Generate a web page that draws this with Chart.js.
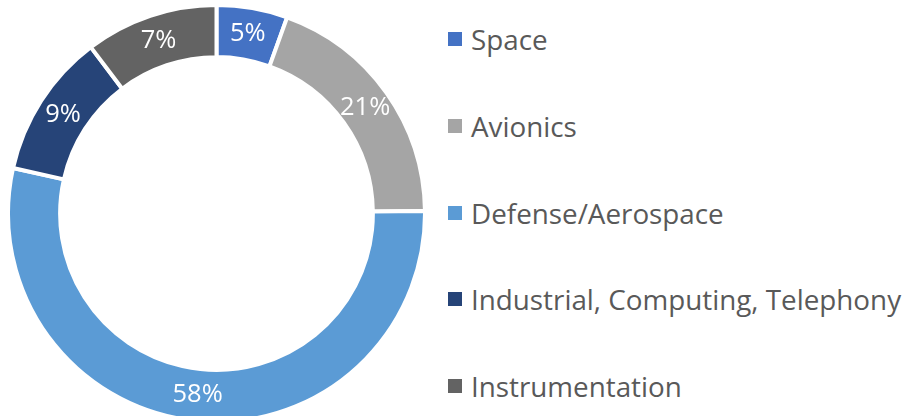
<!DOCTYPE html>
<html>
<head>
<meta charset="utf-8">
<script src="https://cdn.jsdelivr.net/npm/chart.js@4.4.1/dist/chart.umd.min.js"></script>
<style>
  html, body { margin: 0; padding: 0; background: #fff; overflow: hidden; }
  #wrap { position: absolute; left: 0; top: 0; width: 433px; height: 424px; }
  #legend {
    position: absolute; left: 448px; top: -4px; margin: 0; padding: 0; list-style: none;
    font-family: 'Open Sans', sans-serif; font-size: 27.8px; color: #595959;
  }
  #legend li { display: flex; align-items: center; height: 86.67px; white-space: nowrap; }
  #legend .box { width: 14px; height: 14px; margin-right: 9px; flex: none; }
</style>
</head>
<body>
<div id="wrap"><canvas id="chart-sectors"></canvas></div>
<ul id="legend"></ul>
<script>
const sectors = ['Space', 'Avionics', 'Defense/Aerospace', 'Industrial, Computing, Telephony', 'Instrumentation'];
const shares = [5.5, 19.3, 53.7, 11.2, 10.3];
const shareLabels = ['5%', '21%', '58%', '9%', '7%'];
const colors = ['#4472C4', '#A5A5A5', '#5B9BD5', '#264478', '#636363'];

// white % text in the middle of each ring segment
const sliceLabels = {
  id: 'sliceLabels',
  afterDatasetsDraw(chart) {
    const { ctx } = chart;
    const meta = chart.getDatasetMeta(0);
    ctx.save();
    ctx.font = "25.5px 'Open Sans', sans-serif";
    ctx.fillStyle = '#fff';
    ctx.textAlign = 'center';
    ctx.textBaseline = 'middle';
    meta.data.forEach((arc, i) => {
      const { x, y } = arc.tooltipPosition();
      ctx.fillText(shareLabels[i], x, y);
    });
    ctx.restore();
  }
};

function buildLegend(chart) {
  const list = document.getElementById('legend');
  const items = Chart.overrides.doughnut.plugins.legend.labels.generateLabels(chart);
  items.forEach(item => {
    const li = document.createElement('li');
    const box = document.createElement('span');
    box.className = 'box';
    box.style.background = item.fillStyle;
    li.appendChild(box);
    li.appendChild(document.createTextNode(item.text));
    list.appendChild(li);
  });
}

const chart = new Chart(document.getElementById('chart-sectors'), {
  type: 'doughnut',
  data: {
    labels: sectors,
    datasets: [{
      data: shares,
      backgroundColor: colors,
      borderColor: '#fff',
      borderWidth: 4,
    }]
  },
  options: {
    responsive: true,
    maintainAspectRatio: false,
    animation: false,
    cutout: '75%',
    layout: { padding: { top: 3 } },
    plugins: {
      legend: { display: false },
      tooltip: { enabled: false }
    }
  },
  plugins: [sliceLabels]
});

buildLegend(chart);
</script>
</body>
</html>
